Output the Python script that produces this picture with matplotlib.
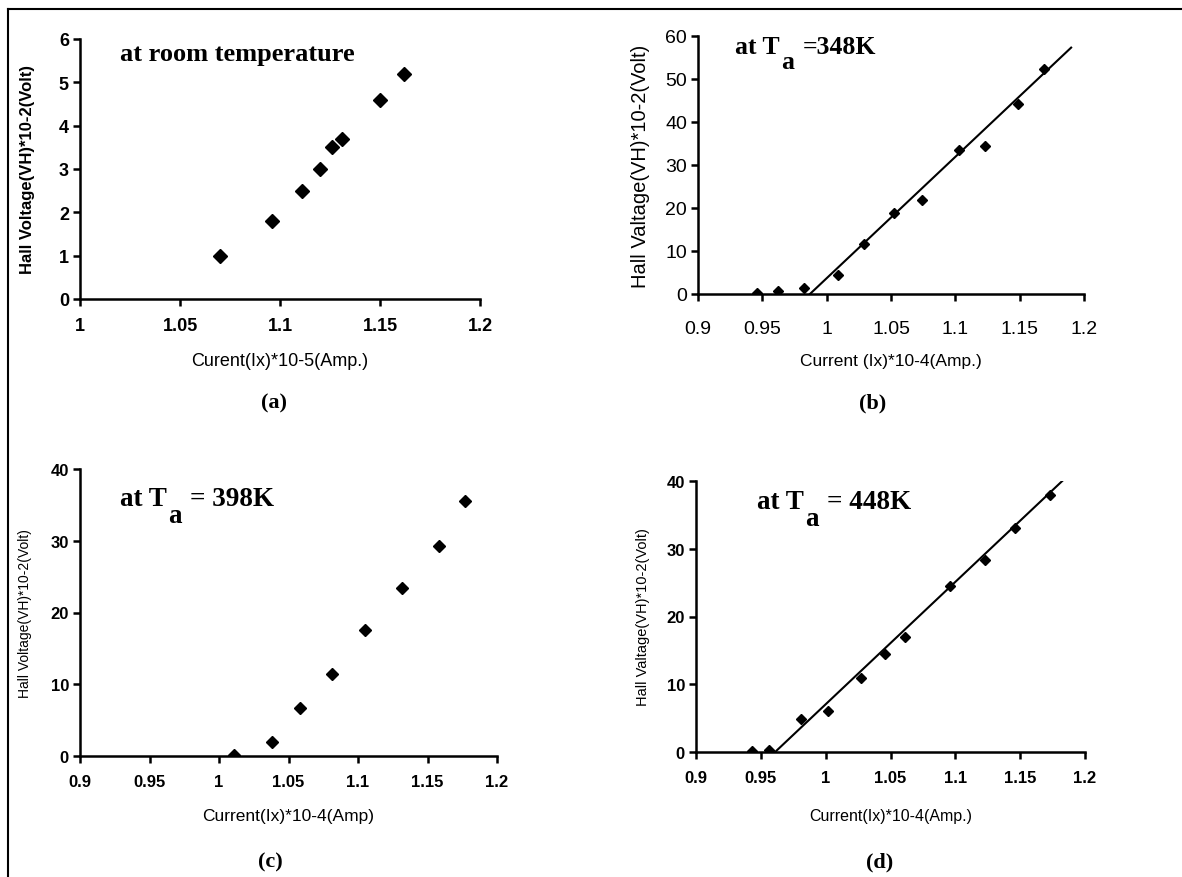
import matplotlib.pyplot as plt
import numpy as np
from matplotlib.lines import Line2D

W, H = 1182, 878

# ---- data ----
a_x = [1.070, 1.096, 1.111, 1.120, 1.126, 1.131, 1.150, 1.162]
a_y = [1.0, 1.8, 2.5, 3.0, 3.5, 3.7, 4.6, 5.2]

b_x = [0.946, 0.962, 0.982, 1.009, 1.029, 1.052, 1.074, 1.103, 1.123, 1.149, 1.169]
b_y = [0.2, 0.8, 1.5, 4.4, 11.7, 18.8, 21.8, 33.5, 34.4, 44.2, 52.3]
b_fit_x = [0.987, 1.190]
b_fit_y = [0.0, 57.3]

c_x = [1.011, 1.038, 1.058, 1.081, 1.105, 1.132, 1.158, 1.177]
c_y = [0.1, 1.9, 6.7, 11.4, 17.6, 23.4, 29.2, 35.6]

d_x = [0.943, 0.956, 0.981, 1.002, 1.027, 1.046, 1.061, 1.096, 1.123, 1.146, 1.173]
d_y = [0.1, 0.3, 4.9, 6.0, 10.9, 14.4, 17.0, 24.5, 28.3, 33.0, 38.0]
d_fit_x = [0.961, 1.183]
d_fit_y = [0.0, 40.1]

SANS = 'Liberation Sans'
SERIF = 'Liberation Serif'

fig = plt.figure(figsize=(W / 100, H / 100), dpi=100)
fig.patch.set_facecolor('white')

# frame lines (top and left)
fig.add_artist(Line2D([8 / W, 1], [1 - 10 / H, 1 - 10 / H], color='black', lw=1.5))
fig.add_artist(Line2D([8 / W, 8 / W], [0, 1 - 10 / H], color='black', lw=1.5))


def px(x, y):
    return x / W, 1 - y / H


def make_axes(l, t, r, b):
    ax = fig.add_axes([l / W, 1 - b / H, (r - l) / W, (b - t) / H])
    ax.set_facecolor('none')
    for s in ['top', 'right']:
        ax.spines[s].set_visible(False)
    for s in ['left', 'bottom']:
        ax.spines[s].set_linewidth(1.8)
    ax.tick_params(direction='out', length=5, width=1.8, colors='black')
    return ax


def fmt(v):
    return '{:g}'.format(v)


def set_ticks(ax, xt, yt, size, weight, xpad, ypad):
    ax.set_xticks(xt)
    ax.set_xticklabels([fmt(v) for v in xt], fontsize=size, fontweight=weight,
                       family=SANS)
    ax.set_yticks(yt)
    ax.set_yticklabels([fmt(v) for v in yt], fontsize=size, fontweight=weight,
                       family=SANS)
    ax.tick_params(axis='x', pad=xpad)
    ax.tick_params(axis='y', pad=ypad)


def ta_title(x, y, rest, size):
    # "at T" + dropped "a" + rest, chained by text bounding boxes
    t1 = fig.text(*px(x, y), 'at T', fontsize=size, fontweight='bold',
                  family=SERIF, va='center', ha='left')
    t2 = plt.annotate('a', xy=(1, 0), xycoords=t1, xytext=(1, 6),
                      textcoords='offset points', va='top', ha='left',
                      fontsize=size, fontweight='bold', family=SERIF,
                      annotation_clip=False)
    plt.annotate(rest, xy=(1, 0), xycoords=(t2, t1), xytext=(6, 0),
                 textcoords='offset points', va='bottom', ha='left',
                 fontsize=size, fontweight='bold', family=SERIF,
                 annotation_clip=False)


# ---- (a) ----
ax = make_axes(80, 40, 480, 300)
ax.plot(a_x, a_y, 'D', color='black', ms=7)
ax.set_xlim(1, 1.2)
ax.set_ylim(0, 6)
set_ticks(ax, [1, 1.05, 1.1, 1.15, 1.2], list(range(0, 7)), 13, 'bold', 8, 3)
ax.set_ylabel('Hall Voltage(VH)*10-2(Volt)', fontsize=12, fontweight='bold',
              family=SANS)
ax.yaxis.set_label_coords((35 - 80) / 400, 0.5)
ax.set_xlabel('Curent(Ix)*10-5(Amp.)', fontsize=13, family=SANS)
ax.xaxis.set_label_coords(0.5, -(362 - 300) / 260)
ax.xaxis.label.set_va('center')
fig.text(*px(120, 55), 'at room temperature', fontsize=19, fontweight='bold',
         family=SERIF, va='center', ha='left')
fig.text(*px(274, 403), '(a)', fontsize=16, fontweight='bold', family=SERIF,
         va='center', ha='center')

# ---- (b) ----
ax = make_axes(698, 37, 1084, 295)
ax.plot(b_x, b_y, 'D', color='black', ms=5.5)
ax.plot(b_fit_x, b_fit_y, '-', color='black', lw=1.5)
ax.set_xlim(0.9, 1.2)
ax.set_ylim(0, 60)
set_ticks(ax, [0.9, 0.95, 1, 1.05, 1.1, 1.15, 1.2], list(range(0, 61, 10)),
          14, 'normal', 14, 3)
ax.set_ylabel('Hall Valtage(VH)*10-2(Volt)', fontsize=14.5, family=SANS)
ax.yaxis.set_label_coords((650 - 698) / 386, 0.5)
ax.set_xlabel('Current (Ix)*10-4(Amp.)', fontsize=12.5, family=SANS)
ax.xaxis.set_label_coords(0.5, -(362 - 295) / 258)
ax.xaxis.label.set_va('center')
ta_title(735, 48, '=348K', 18.5)
fig.text(*px(873, 403), '(b)', fontsize=16, fontweight='bold', family=SERIF,
         va='center', ha='center')

# ---- (c) ----
ax = make_axes(80, 470, 497, 757)
ax.plot(c_x, c_y, 'D', color='black', ms=6)
ax.set_xlim(0.9, 1.2)
ax.set_ylim(0, 40)
set_ticks(ax, [0.9, 0.95, 1, 1.05, 1.1, 1.15, 1.2], list(range(0, 41, 10)),
          12, 'bold', 8, 3)
ax.set_ylabel('Hall Voltage(VH)*10-2(Volt)', fontsize=10, family=SANS)
ax.yaxis.set_label_coords((32 - 80) / 417, 0.5)
ax.set_xlabel('Current(Ix)*10-4(Amp)', fontsize=12.5, family=SANS)
ax.xaxis.set_label_coords(0.5, -(817 - 757) / 287)
ax.xaxis.label.set_va('center')
ta_title(120, 500, '= 398K', 19.5)
fig.text(*px(270, 862), '(c)', fontsize=16, fontweight='bold', family=SERIF,
         va='center', ha='center')

# ---- (d) ----
ax = make_axes(696, 482, 1085, 753)
ax.plot(d_x, d_y, 'D', color='black', ms=5)
ax.plot(d_fit_x, d_fit_y, '-', color='black', lw=1.5)
ax.set_xlim(0.9, 1.2)
ax.set_ylim(0, 40)
set_ticks(ax, [0.9, 0.95, 1, 1.05, 1.1, 1.15, 1.2], list(range(0, 41, 10)),
          12, 'bold', 8, 3)
ax.set_ylabel('Hall Valtage(VH)*10-2(Volt)', fontsize=10.5, family=SANS)
ax.yaxis.set_label_coords((650 - 696) / 389, 0.5)
ax.set_xlabel('Current(Ix)*10-4(Amp.)', fontsize=11.5, family=SANS)
ax.xaxis.set_label_coords(0.5, -(817 - 753) / 271)
ax.xaxis.label.set_va('center')
ta_title(757, 503, '= 448K', 19.5)
fig.text(*px(880, 862), '(d)', fontsize=16, fontweight='bold', family=SERIF,
         va='center', ha='center')

fig.savefig('out.png', dpi=100)
